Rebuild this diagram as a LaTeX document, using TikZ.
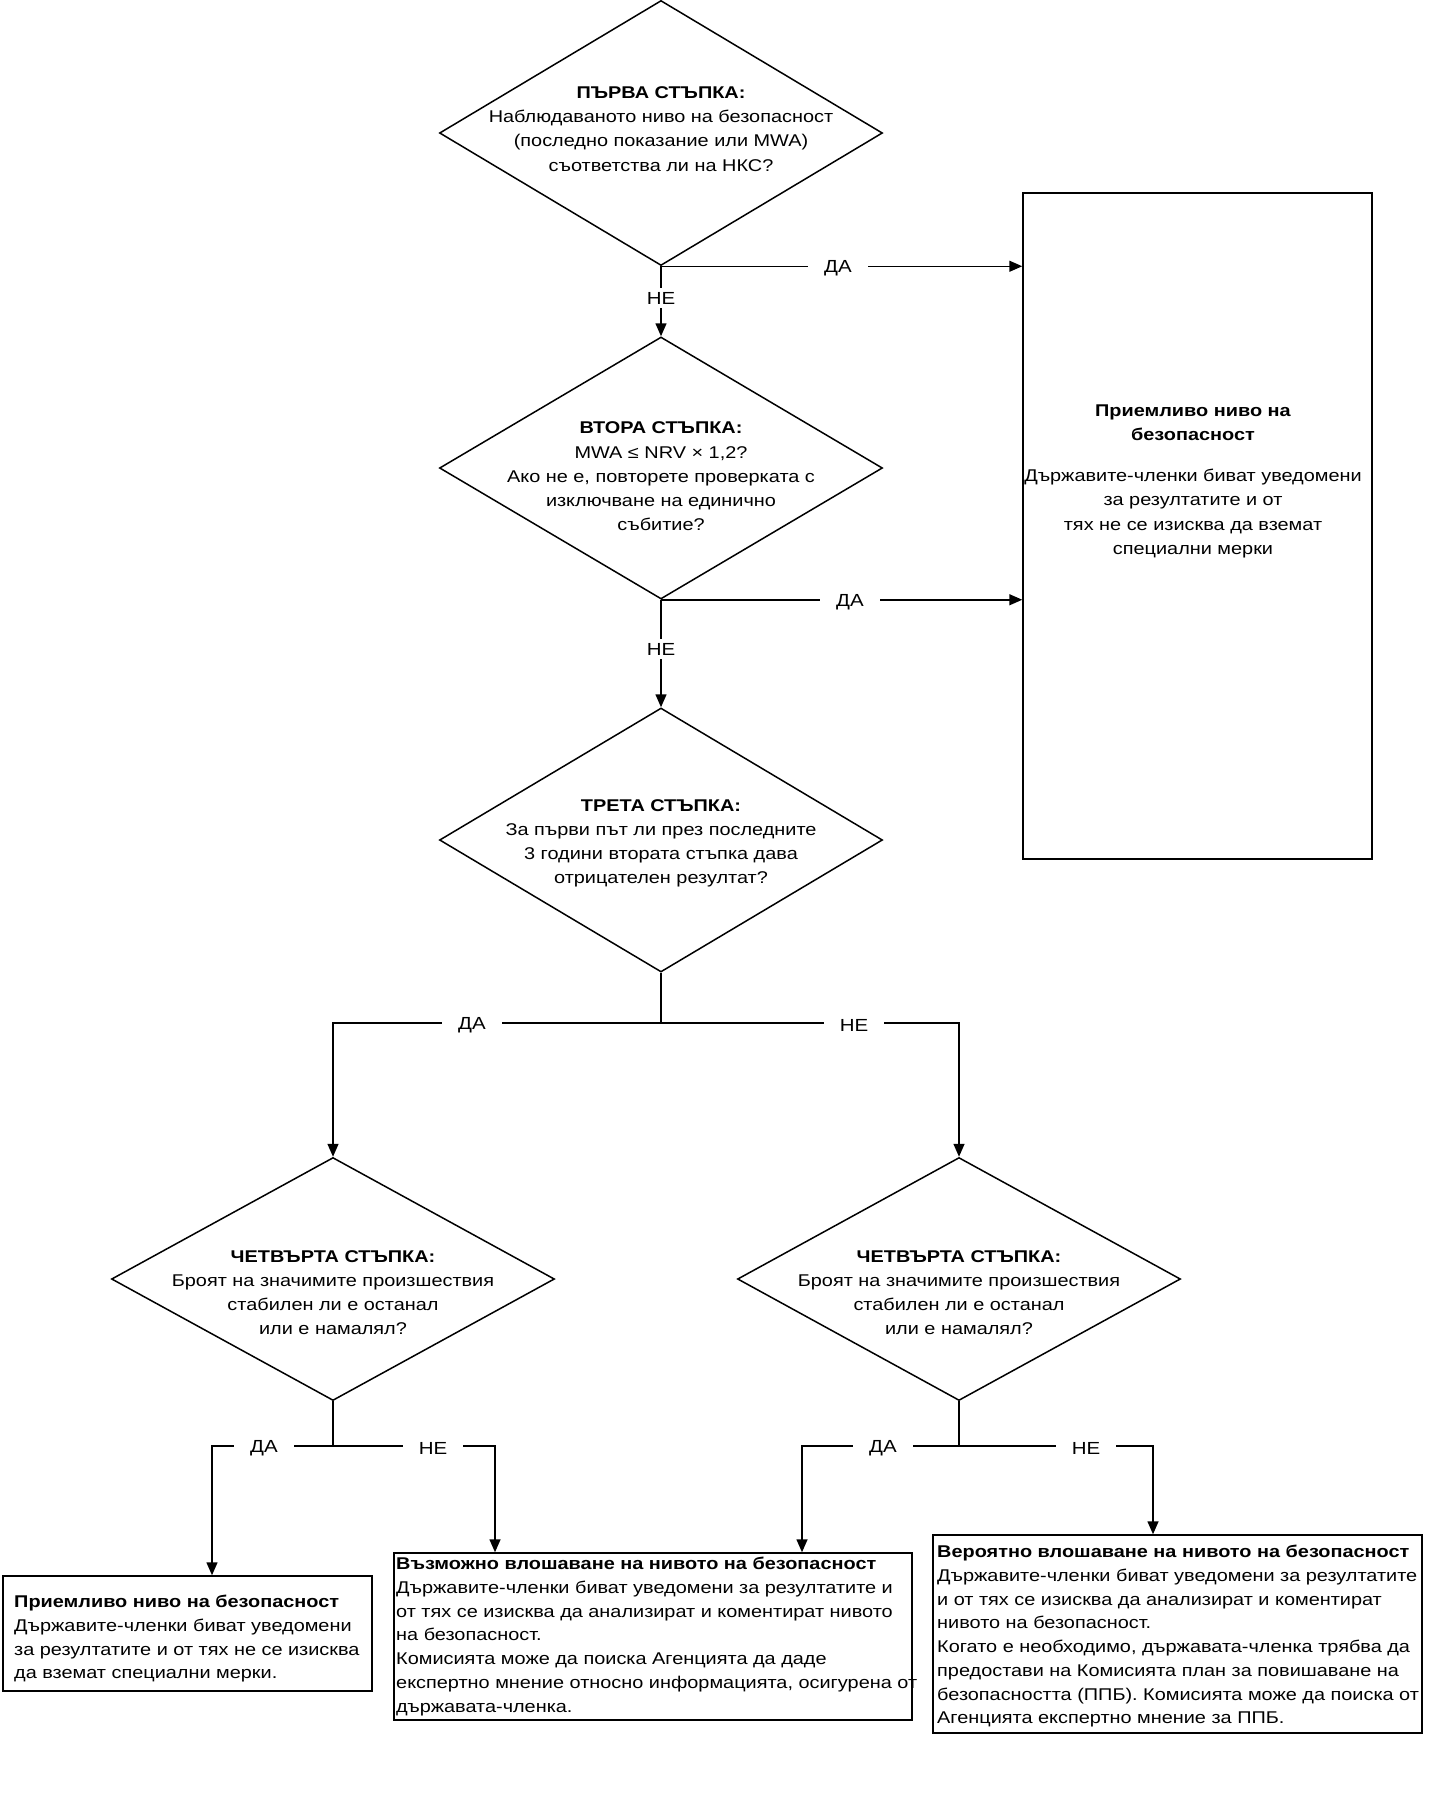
\documentclass[tikz,border=0pt]{standalone}
\usepackage{fontspec}
\setmainfont{Liberation Sans}
\usetikzlibrary{shapes.geometric,arrows.meta}
\newcommand{\wx}[1]{\scalebox{1.17}[1]{#1}}
\tikzset{
  base/.style={line width=1.5pt},
  dia/.style={base, draw, diamond, minimum width=443pt, minimum height=265pt, inner sep=0pt},
  sdia/.style={dia, minimum height=243pt},
  box/.style={base, draw, rectangle, inner sep=0pt},
  txt/.style={inner sep=0pt, font=\fontsize{17}{24.2}\selectfont},
  btxt/.style={inner sep=0pt, font=\fontsize{17}{23.7}\selectfont},
  hlbl/.style={fill=white, inner xsep=16pt, inner ysep=3pt, font=\fontsize{17.5}{20}\selectfont},
  vlbl/.style={fill=white, inner xsep=3pt, inner ysep=4pt, font=\fontsize{17.5}{20}\selectfont},
  arr/.style={base, -{Triangle[length=13pt, width=11pt]}},
  ln/.style={base}
}
\begin{document}
\begin{tikzpicture}[x=1pt, y=-1pt]
\fill[white] (0,0) rectangle (1431,1797);
\useasboundingbox (0,0) rectangle (1431,1797);

% diamonds
\node[dia] (d1) at (661,133) {};
\node[txt] (d1t) at (661,130) {\wx{\begin{tabular}{@{}c@{}}\textbf{ПЪРВА СТЪПКА:}\\ Наблюдаваното ниво на безопасност\\ (последно показание или MWA)\\ съответства ли на НКС?\end{tabular}}};

\node[dia, minimum height=262pt] (d2) at (661,468) {};
\node[txt] (d2t) at (661,477.5) {\wx{\begin{tabular}{@{}c@{}}\textbf{ВТОРА СТЪПКА:}\\ MWA ≤ NRV × 1,2?\\ Ако не е, повторете проверката с\\ изключване на единично\\ събитие?\end{tabular}}};

\node[dia, minimum height=264pt] (d3) at (661,840) {};
\node[txt] (d3t) at (661,842.5) {\wx{\begin{tabular}{@{}c@{}}\textbf{ТРЕТА СТЪПКА:}\\ За първи път ли през последните\\ 3 години втората стъпка дава\\ отрицателен резултат?\end{tabular}}};

\node[sdia] (d4l) at (333,1279) {};
\node[txt] (d4lt) at (333,1293.5) {\wx{\begin{tabular}{@{}c@{}}\textbf{ЧЕТВЪРТА СТЪПКА:}\\ Броят на значимите произшествия\\ стабилен ли е останал\\ или е намалял?\end{tabular}}};

\node[sdia] (d4r) at (959,1279) {};
\node[txt] (d4rt) at (959,1293.5) {\wx{\begin{tabular}{@{}c@{}}\textbf{ЧЕТВЪРТА СТЪПКА:}\\ Броят на значимите произшествия\\ стабилен ли е останал\\ или е намалял?\end{tabular}}};

% boxes
\node[box, minimum width=349pt, minimum height=666pt] (b1) at (1197.5,526) {};
\node[txt, anchor=north, font=\fontsize{17}{24.5}\selectfont] (b1t) at (1193,399) {\wx{\begin{tabular}{@{}c@{}}\textbf{Приемливо ниво на}\\ \textbf{безопасност}\\[16pt] Държавите-членки биват уведомени\\ за резултатите и от\\ тях не се изисква да вземат\\ специални мерки\end{tabular}}};

\node[box, minimum width=369pt, minimum height=115pt] (lb) at (187.5,1633.5) {};
\node[txt, anchor=north west, font=\fontsize{17}{23.7}\selectfont] (lbt) at (14,1591) {\wx{\begin{tabular}{@{}l@{}}\textbf{Приемливо ниво на безопасност}\\ Държавите-членки биват уведомени\\ за резултатите и от тях не се изисква\\ да вземат специални мерки.\end{tabular}}};

\node[box, minimum width=518pt, minimum height=167pt] (mb) at (653,1636.5) {};
\node[btxt, anchor=north west] (mbt) at (396,1553) {\wx{\begin{tabular}{@{}l@{}}\textbf{Възможно влошаване на нивото на безопасност}\\ Държавите-членки биват уведомени за резултатите и\\ от тях се изисква да анализират и коментират нивото\\ на безопасност.\\ Комисията може да поиска Агенцията да даде\\ експертно мнение относно информацията, осигурена от\\ държавата-членка.\end{tabular}}};

\node[box, minimum width=489pt, minimum height=198pt] (rb) at (1177.5,1634) {};
\node[btxt, anchor=north west] (rbt) at (937,1541) {\wx{\begin{tabular}{@{}l@{}}\textbf{Вероятно влошаване на нивото на безопасност}\\ Държавите-членки биват уведомени за резултатите\\ и от тях се изисква да анализират и коментират\\ нивото на безопасност.\\ Когато е необходимо, държавата-членка трябва да\\ предостави на Комисията план за повишаване на\\ безопасността (ППБ). Комисията може да поиска от\\ Агенцията експертно мнение за ППБ.\end{tabular}}};

% connectors step 1, 2
\draw[arr] (d1.south) -- (d1.south -| b1.west);
\draw[arr] (d1.south) -- (d2.north);
\node[hlbl] (l1y) at (838,268) {\wx{ДА}};
\node[vlbl] (l1n) at (661,298) {\wx{НЕ}};

\draw[arr] (d2.south) -- (d2.south -| b1.west);
\draw[arr] (d2.south) -- (d3.north);
\node[hlbl] (l2y) at (850,602) {\wx{ДА}};
\node[vlbl] (l2n) at (661,649) {\wx{НЕ}};

% step 3 branches
\coordinate (j3) at (661,1023);
\draw[ln] (d3.south) -- (j3);
\draw[arr] (j3) -| (d4l.north);
\draw[arr] (j3) -| (d4r.north);
\node[hlbl] (l3y) at (472,1025) {\wx{ДА}};
\node[hlbl] (l3n) at (854,1025) {\wx{НЕ}};

% step 4 left
\coordinate (j4l) at (333,1446);
\coordinate (k4la) at (212,1446);
\coordinate (k4lb) at (495,1446);
\draw[ln] (d4l.south) -- (j4l);
\draw[arr] (j4l) -- (k4la) -- (k4la |- lb.north);
\draw[arr] (j4l) -- (k4lb) -- (k4lb |- mb.north);
\node[hlbl] (l4ly) at (264,1448) {\wx{ДА}};
\node[hlbl] (l4ln) at (433,1448) {\wx{НЕ}};

% step 4 right
\coordinate (j4r) at (959,1446);
\coordinate (k4ra) at (802,1446);
\coordinate (k4rb) at (1153,1446);
\draw[ln] (d4r.south) -- (j4r);
\draw[arr] (j4r) -- (k4ra) -- (k4ra |- mb.north);
\draw[arr] (j4r) -- (k4rb) -- (k4rb |- rb.north);
\node[hlbl] (l4ry) at (883,1448) {\wx{ДА}};
\node[hlbl] (l4rn) at (1086,1448) {\wx{НЕ}};
\end{tikzpicture}
\end{document}
